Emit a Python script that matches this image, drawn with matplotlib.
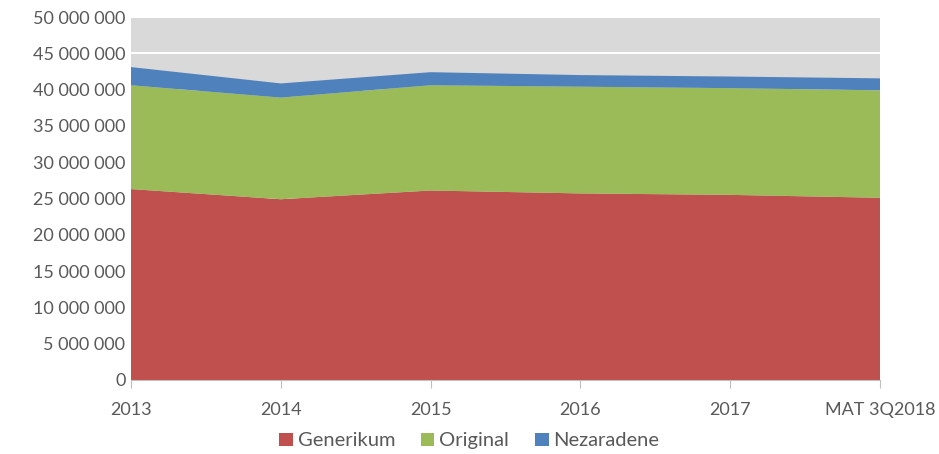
import matplotlib
matplotlib.use("Agg")
import matplotlib.pyplot as plt
from matplotlib.patches import Patch
from matplotlib.ticker import FuncFormatter, MultipleLocator

categories = ["2013", "2014", "2015", "2016", "2017", "MAT 3Q2018"]
generikum = [26.3e6, 24.9e6, 26.1e6, 25.7e6, 25.5e6, 25.1e6]
original = [14.3e6, 14.0e6, 14.5e6, 14.7e6, 14.7e6, 14.8e6]
nezaradene = [2.5e6, 1.95e6, 1.8e6, 1.6e6, 1.6e6, 1.65e6]
series_names = ["Generikum", "Original", "Nezaradene"]
colors = ["#C0504D", "#9BBB59", "#4F81BD"]

plt.rcParams['font.family'] = ['Lato', 'DejaVu Sans']

fig = plt.figure(figsize=(9.39, 4.54), dpi=100)
ax = fig.add_axes([131/939, 1-380/454, (880-131)/939, (380-17)/454])
ax.set_facecolor("#D9D9D9")

x = list(range(len(categories)))
ax.stackplot(x, generikum, original, nezaradene, colors=colors, zorder=2, linewidth=0)

ax.set_xlim(0, len(categories)-1)
ax.set_ylim(0, 50e6)
ax.yaxis.set_major_locator(MultipleLocator(5e6))
ax.yaxis.set_major_formatter(FuncFormatter(lambda v, p: f"{int(round(v)):,}".replace(",", " ")))
ax.grid(axis='y', color='white', linewidth=1.5, zorder=1)
ax.set_axisbelow(True)

ax.set_xticks(x)
ax.set_xticklabels(categories)
for s in ["top", "right", "left"]:
    ax.spines[s].set_visible(False)
ax.spines["bottom"].set_color("#BFBFBF")
ax.tick_params(axis='y', length=0, labelsize=13, labelcolor="#595959", pad=4)
ax.tick_params(axis='x', length=6, color="#BFBFBF", labelsize=13, labelcolor="#595959", pad=10)

handles = [Patch(facecolor=c, label=n) for c, n in zip(colors, series_names)]
fig.legend(handles=handles, loc="lower center", bbox_to_anchor=(0.5, -0.03), ncol=3,
           frameon=False, fontsize=14.5, handlelength=0.65, handleheight=0.65,
           handletextpad=0.25, columnspacing=1.3, labelcolor="#595959")

fig.savefig("out.png", dpi=100)
